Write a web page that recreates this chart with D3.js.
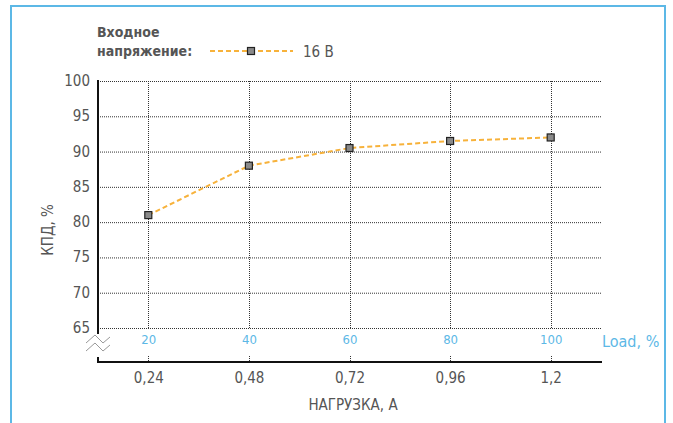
<!DOCTYPE html>
<html><head><meta charset="utf-8">
<script src="https://cdn.jsdelivr.net/npm/d3@7"></script>
<style>
html,body{margin:0;padding:0;background:#fff;}
text{font-family:"Liberation Sans Narrow","DejaVu Sans Condensed",sans-serif;}
</style></head>
<body><svg id="c" width="673" height="423"></svg>
<script>
const loadPct = [20, 40, 60, 80, 100];
const currentLabels = ["0,24", "0,48", "0,72", "0,96", "1,2"];
const efficiency16V = [81, 88, 90.5, 91.5, 92];
const yTicks = [65, 70, 75, 80, 85, 90, 95, 100];
const seriesName = "16 В";

const svg = d3.select("#c");
const x = d3.scaleLinear().domain([10, 110]).range([98, 601]);
const y = d3.scaleLinear().domain([65, 100]).range([328, 81]);

// frame
svg.append("path").attr("d","M11,430 V6 H665 V430").attr("fill","none")
  .attr("stroke","#5cb8e6").attr("stroke-width",2);

// grid
const grid = svg.append("g");
grid.selectAll("line.h").data(yTicks).join("line")
  .attr("x1",98).attr("x2",601).attr("y1",d=>y(d)+0.5).attr("y2",d=>y(d)+0.5)
  .attr("stroke","#333").attr("stroke-width",1).attr("stroke-dasharray","1,1");
grid.selectAll("line.v").data(loadPct).join("line")
  .attr("x1",d=>Math.round(x(d))+0.5).attr("x2",d=>Math.round(x(d))+0.5).attr("y1",81).attr("y2",328)
  .attr("stroke","#333").attr("stroke-width",1).attr("stroke-dasharray","1,1");
grid.selectAll("line.t").data(loadPct).join("line")
  .attr("x1",d=>Math.round(x(d))+0.5).attr("x2",d=>Math.round(x(d))+0.5).attr("y1",356).attr("y2",362)
  .attr("stroke","#333").attr("stroke-width",1).attr("stroke-dasharray","1,1");

// y axis
const yAxis = d3.axisLeft(y).tickValues(yTicks).tickSize(0).tickPadding(8);
const gy = svg.append("g").attr("transform","translate(90,0)").call(yAxis);
gy.select(".domain").remove();
gy.selectAll("text").attr("font-size",15).attr("fill","#555").attr("x",0).attr("dy","0.3em");

// axis lines
svg.append("line").attr("x1",98).attr("x2",98).attr("y1",80).attr("y2",334).attr("stroke","#111").attr("stroke-width",2);
svg.append("line").attr("x1",98).attr("x2",98).attr("y1",357).attr("y2",363).attr("stroke","#111").attr("stroke-width",2);
svg.append("line").attr("x1",97).attr("x2",602).attr("y1",362).attr("y2",362).attr("stroke","#111").attr("stroke-width",2);

// break symbol
[0,8].forEach(o=>{
  svg.append("path").attr("d",`M86,${343+o} L95,${335+o} L103,${343+o} L110,${337+o}`)
    .attr("fill","none").attr("stroke","#999").attr("stroke-width",1);
});

// load % axis labels
const xTop = d3.axisBottom(x).tickValues(loadPct).tickSize(0).tickPadding(0);
const gx1 = svg.append("g").attr("transform","translate(0,335)").call(xTop);
gx1.select(".domain").remove();
gx1.selectAll("text").attr("font-size",13).attr("fill","#5cb8e6");
svg.append("text").attr("x",602).attr("y",347).attr("font-size",16).attr("fill","#5cb8e6").text("Load, %");

// current axis labels
const xBot = d3.axisBottom(x).tickValues(loadPct).tickFormat((d,i)=>currentLabels[i]).tickSize(0).tickPadding(0);
const gx2 = svg.append("g").attr("transform","translate(0,372)").call(xBot);
gx2.select(".domain").remove();
gx2.selectAll("text").attr("font-size",15).attr("fill","#555");
svg.append("text").attr("x",353).attr("y",410).attr("text-anchor","middle").attr("font-size",15).attr("fill","#555").text("НАГРУЗКА, А");

// y label
svg.append("text").attr("transform","translate(53,230) rotate(-90)").attr("text-anchor","middle")
  .attr("font-size",15).attr("fill","#555").text("КПД, %");

// series
const pts = loadPct.map((d,i)=>[x(d), y(efficiency16V[i])]);
svg.append("path").attr("d", d3.line()(pts)).attr("fill","none")
  .attr("stroke","#f7b23b").attr("stroke-width",2).attr("stroke-dasharray","5,3");
svg.selectAll("rect.m").data(pts).join("rect")
  .attr("x",d=>d[0]-3.5).attr("y",d=>d[1]-3.5).attr("width",7).attr("height",7)
  .attr("fill","#8a8a8a").attr("stroke","#222").attr("stroke-width",1.2);

// legend
svg.append("text").attr("x",97).attr("y",37).attr("font-size",14).attr("font-weight","bold").attr("fill","#555").text("Входное");
svg.append("text").attr("x",97).attr("y",56).attr("font-size",14).attr("font-weight","bold").attr("fill","#555").text("напряжение:");
svg.append("line").attr("x1",210).attr("x2",293).attr("y1",51).attr("y2",51)
  .attr("stroke","#f7b23b").attr("stroke-width",2).attr("stroke-dasharray","5,3");
svg.append("rect").attr("x",247.5).attr("y",47.5).attr("width",7).attr("height",7)
  .attr("fill","#8a8a8a").attr("stroke","#222").attr("stroke-width",1.2);
svg.append("text").attr("x",303).attr("y",57).attr("font-size",15).attr("fill","#555").text(seriesName);
</script></body></html>
